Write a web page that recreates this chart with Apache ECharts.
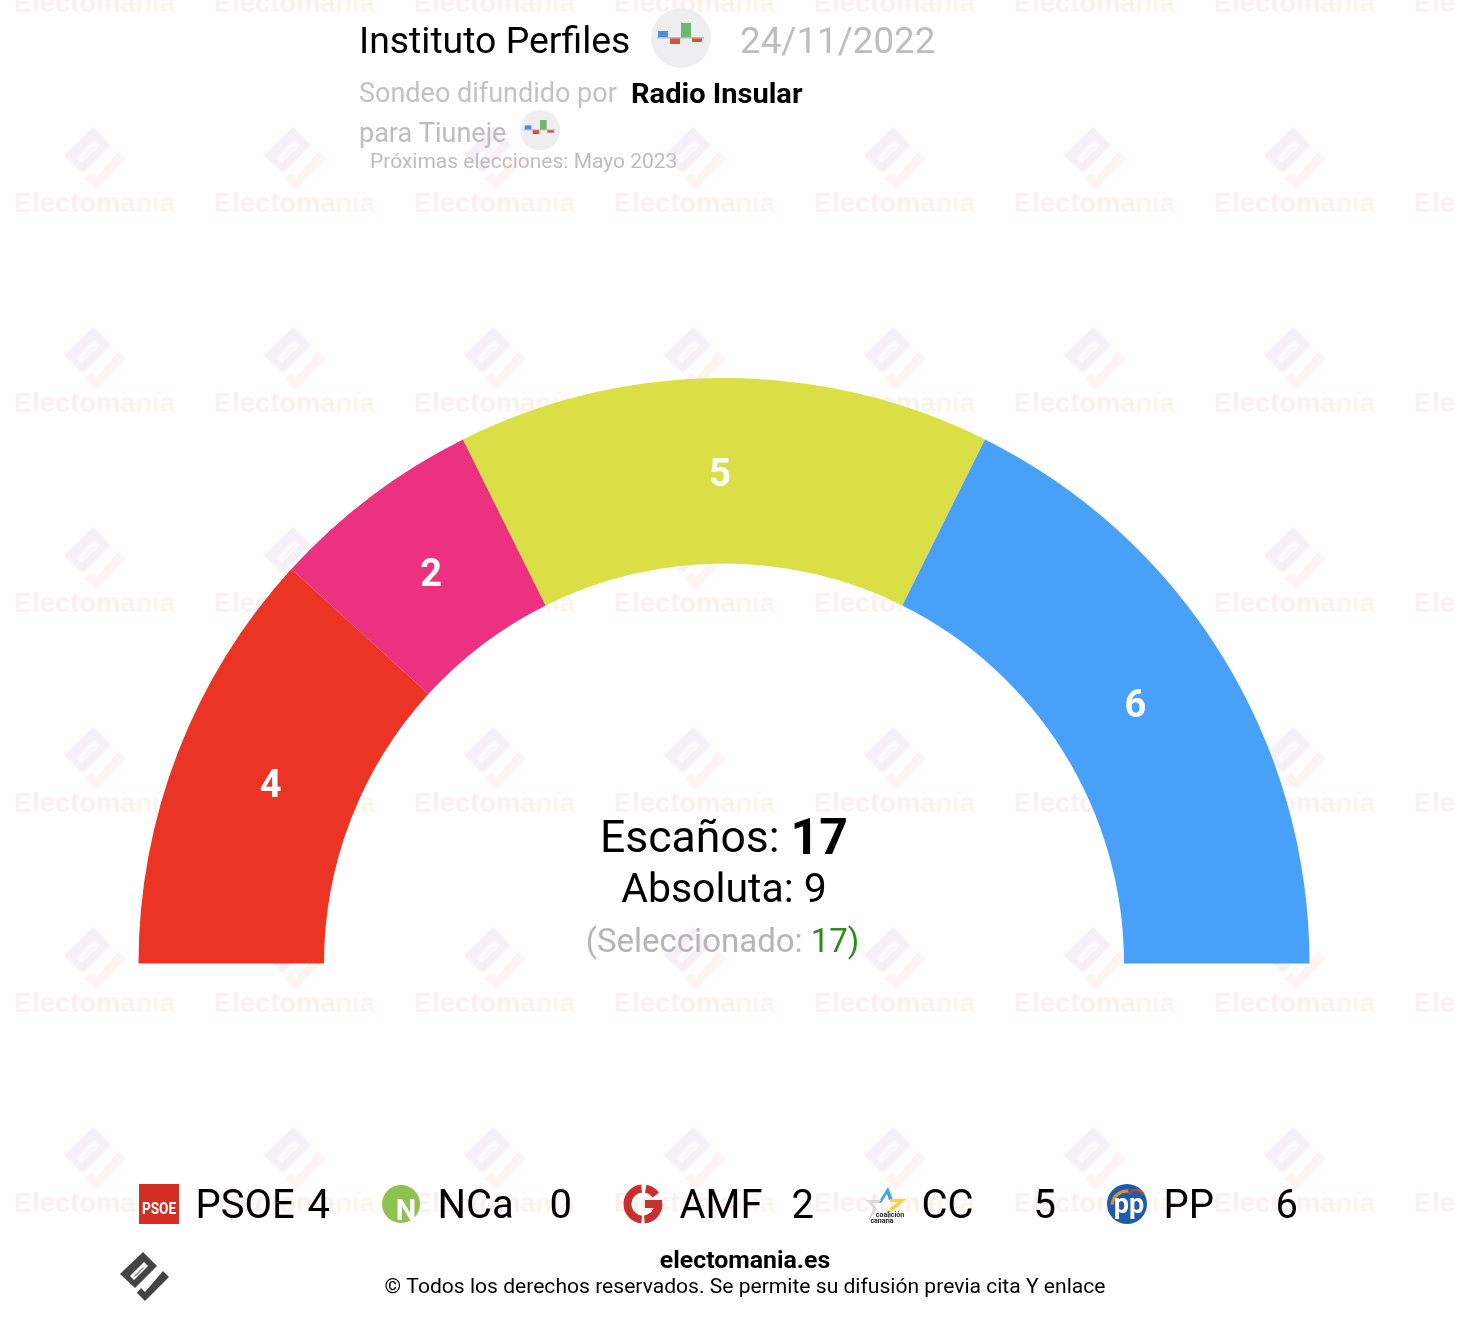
<!DOCTYPE html>
<html><head><meta charset="utf-8">
<style>html,body{margin:0;padding:0;background:#fff}#c{width:1474px;height:1318px}</style>
<script src="https://cdn.jsdelivr.net/npm/echarts@6/dist/echarts.min.js"></script>
</head><body><div id="c"></div>
<script>
const parties = ['PSOE','NCa','AMF','CC','PP'];
const seats = [4,0,2,5,6];
const partyColors = ['#eb3423','#8fc151','#eb3180','#d9df45','#48a0f8'];
const labelNudges = [[9,3],[0,0],[6,9],[-4,9],[-10,5]];
const titleText = 'Instituto Perfiles';
const dateText = '24/11/2022';
const totalSeats = 17, majority = 9, selected = 17;

const chart = echarts.init(document.getElementById('c'), null, {renderer:'canvas', width:1474, height:1318});
const F = 'Roboto';
const G = echarts.graphic;
const g = [];
const txt = (x,y,text,size,fill,extra={}) => g.push({type:'text',x,y,scaleX:extra.sx||1,style:{text,fill,font:`${extra.weight||'normal'} ${size}px ${F}`,textAlign:extra.align||'left',textVerticalAlign:'middle'},silent:true});
const poly = (points,fill,ox=0,oy=0,s=1) => g.push({type:'polygon',x:ox,y:oy,scaleX:s,scaleY:s,shape:{points},style:{fill},silent:true});
const logoBody = [[33,7],[47,21],[25,43],[10,29]];
const logoSlit = [[20,31],[34,17],[38,21],[24,35]];
const logoLine = [[24,31],[33,22],[34,23],[25,32]];
const logoCheck = [[53,26],[59,32],[35,56],[27,48],[31,43],[35,47]];

// watermark tiles
const wmBody = new G.LinearGradient(0,0,1,1,[{offset:0,color:'#f3f0fa'},{offset:1,color:'#f9f1f5'}]);
const wmCheck = new G.LinearGradient(0,0,1,0,[{offset:0,color:'#fbf2f2'},{offset:1,color:'#fcf5f0'}]);
const wmFont='bold 27.3px "Liberation Sans"';
const wmRich = {a:{fill:'#faf0ef',font:wmFont},b:{fill:'#fbf0ee',font:wmFont},c:{fill:'#fcf2ec',font:wmFont},d:{fill:'#fdf5e9',font:wmFont}};
for(let row=0;row<7;row++){
  for(let col=0;col<8;col++){
    const ox=col*200, oy=row*200;
    if(row>0 && col<7){
      const lx=51+ox, ly=oy-82;
      poly(logoBody,wmBody,lx,ly,1.28);
      poly(logoSlit,'#ffffff',lx,ly,1.28);
      poly(logoLine,wmBody,lx,ly,1.28);
      poly(logoCheck,wmCheck,lx,ly,1.28);
    }
    g.push({type:'text',x:14+ox,y:4+oy,silent:true,style:{text:col===7?'{a|Ele}':'{a|Ele}{b|cto}{c|ma}{d|nía}',rich:wmRich,textVerticalAlign:'middle'}});
  }
}
// chart icon for pollster
const miniChart=(cx,cy,r)=>{
  const k=r/30;
  g.push({type:'circle',shape:{cx,cy,r},style:{fill:'#eeedef'},silent:true});
  const bar=(x0,y0,w,h,fill)=>g.push({type:'rect',shape:{x:cx+x0*k,y:cy+y0*k,width:w*k,height:h*k},style:{fill},silent:true});
  bar(-23,-7,10,7,'#4a90d2');bar(-11,0,10,6,'#db4f3c');bar(0,-15,10,15,'#6cb873');bar(11,0,10,4,'#db4f3c');
  bar(-24,-1,47,1.5,'#bbbbbb');
};
txt(359,44,titleText,36,'#000',{sx:1.038});
miniChart(681,38,30);
txt(740,44,dateText,36,'#bdbdbd',{sx:1.02});
txt(359,95,'Sondeo difundido por',27,'#c2c2c2');
txt(631,96,'Radio Insular',27,'#000',{weight:'bold',sx:1.075});
txt(359,135,'para Tiuneje',27,'#bdbdbd');
miniChart(540,130,20);
txt(370,163,'Próximas elecciones: Mayo 2023',20,'#bdbdbd',{sx:1.05});

// centre block
g.push({type:'text',x:724,y:841,silent:true,style:{text:`{a|Escaños: }{b|${totalSeats}}`,textAlign:'center',textVerticalAlign:'middle',rich:{a:{font:`44.5px ${F}`,fill:'#000'},b:{font:`bold 50px ${F}`,fill:'#000'}}}});
txt(724,892,`Absoluta: ${majority}`,41,'#000',{align:'center'});
g.push({type:'text',x:722.5,y:944,silent:true,style:{text:`{a|(Seleccionado: }{b|${selected}}{c|)}`,textAlign:'center',textVerticalAlign:'middle',rich:{a:{font:`33px ${F}`,fill:'#b5b5b5'},b:{font:`33px ${F}`,fill:'#2e8b1f'},c:{font:`33px ${F}`,fill:'#2e8b1f'}}}});

// legend
const step=242;
parties.forEach((p,i)=>{
  txt(195.5+i*step,1208,p,40,'#000');
  txt(307.5+i*step,1208,String(seats[i]),40,'#000');
});
// PSOE icon
g.push({type:'rect',shape:{x:139,y:1184,width:40,height:40},style:{fill:'#d32e22'},silent:true});
g.push({type:'text',x:159,y:1210,scaleX:.85,silent:true,style:{text:'PSOE',fill:'#fff',font:`bold 16px ${F}`,textAlign:'center',textVerticalAlign:'middle'}});
// NCa icon
g.push({type:'circle',shape:{cx:401,cy:1204,r:19},style:{fill:'#8fc151'},silent:true});
g.push({type:'text',x:406,y:1213,silent:true,style:{text:'N',fill:'#fff',font:`bold 29px ${F}`,textAlign:'center',textVerticalAlign:'middle'}});
// AMF icon
const D=Math.PI/180, red='#c8302e';
const arc=(cx,cy,r,a,b,stroke,w)=>g.push({type:'arc',shape:{cx,cy,r,startAngle:a*D,endAngle:b*D,clockwise:true},style:{fill:'none',stroke,lineWidth:w},silent:true});
arc(643,1204,15.5,95,265,red,8);
arc(643,1204,15.5,-80,-35,red,8);
arc(643,1204,15.5,0,85,red,8);
g.push({type:'rect',shape:{x:645,y:1200,width:17,height:8},style:{fill:red},silent:true});
// CC icon
poly([[878,1203],[888,1187],[893,1200],[889,1200],[887,1194],[881,1203]],'#3ea9dc');
poly([[890,1199],[906,1199],[893,1211],[889,1209],[898,1202],[890,1202]],'#f7d23f');
poly([[866,1200],[881,1200],[879,1203],[873,1203],[877,1209],[868,1222],[873,1208]],'#d9d9d9');
g.push({type:'text',x:890,y:1215,silent:true,style:{text:'coalición',fill:'#222',font:`bold 7px ${F}`,textAlign:'center',textVerticalAlign:'middle'}});
g.push({type:'text',x:882,y:1221,silent:true,style:{text:'canaria',fill:'#222',font:`bold 7px ${F}`,textAlign:'center',textVerticalAlign:'middle'}});
// PP icon
g.push({type:'circle',shape:{cx:1127,cy:1204,r:20},style:{fill:'#1f5ba6'},silent:true});
arc(1127,1206,15,185,275,'#e8912a',3);
arc(1136,1199,9,215,330,'#d8402b',2);
g.push({type:'text',x:1129,y:1206,silent:true,style:{text:'pp',fill:'#fff',font:`bold 27px ${F}`,textAlign:'center',textVerticalAlign:'middle'}});

// footer
poly(logoBody,'#444',110,1245);
poly(logoSlit,'#fff',110,1245);
poly(logoLine,'#888',110,1245);
poly(logoCheck,'#444',110,1245);
txt(745,1262,'electomania.es',23,'#000',{weight:'bold',align:'center',sx:1.08});
txt(745,1288,'© Todos los derechos reservados. Se permite su difusión previa cita Y enlace',20,'#000',{align:'center',sx:1.054});

chart.setOption({
  animation:false,
  backgroundColor:'#fff',
  graphic:{z:0,elements:g},
  series:[{
    type:'pie',z:2,silent:true,
    center:[724,963.5],radius:[400,585.5],startAngle:180,endAngle:0,clockwise:true,
    label:{show:true,position:'inside',formatter:p=>p.value?String(p.value):'',color:'#fff',fontFamily:F,fontWeight:'bold',fontSize:38},
    labelLine:{show:false},
    itemStyle:{borderWidth:0},
    data:parties.map((name,i)=>({name,value:seats[i],
      itemStyle:{color:partyColors[i],opacity:seats[i]?1:0},
      label:{offset:labelNudges[i]}}))
  }]
});
</script></body></html>
